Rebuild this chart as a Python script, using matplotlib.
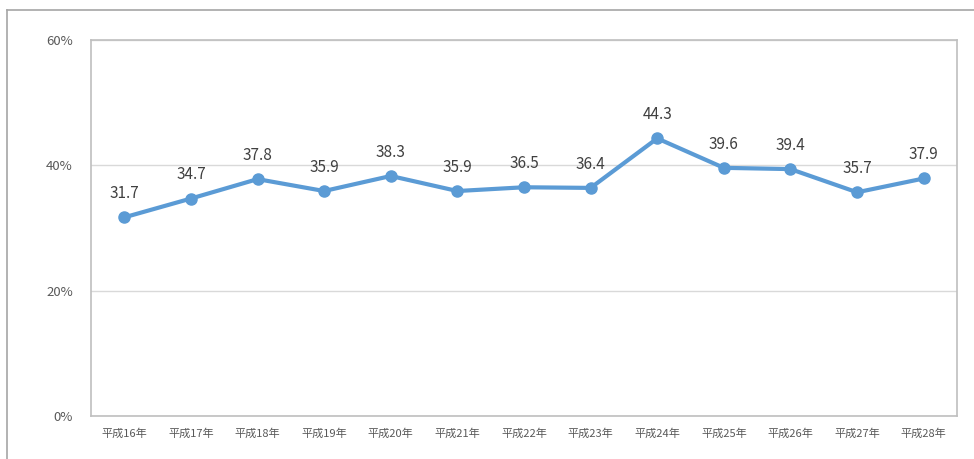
import matplotlib.pyplot as plt
from matplotlib.lines import Line2D

plt.rcParams['font.family'] = ['Noto Sans CJK JP', 'DejaVu Sans']

# Data
years = ['平成16年', '平成17年', '平成18年', '平成19年', '平成20年', '平成21年', '平成22年',
         '平成23年', '平成24年', '平成25年', '平成26年', '平成27年', '平成28年']
rates = [31.7, 34.7, 37.8, 35.9, 38.3, 35.9, 36.5, 36.4, 44.3, 39.6, 39.4, 35.7, 37.9]
y_ticks = [0, 20, 40, 60]

line_color = '#5B9BD5'
text_color = '#404040'
tick_color = '#595959'

fig = plt.figure(figsize=(9.74, 4.59), dpi=100)
ax = fig.add_axes([91 / 974, 43 / 459, 866 / 974, 376 / 459])

# outer chart border (only left and top visible)
fig.add_artist(Line2D([7 / 974, 7 / 974], [0, 1 - 10 / 459], transform=fig.transFigure,
                      color='#A6A6A6', lw=1.2))
fig.add_artist(Line2D([7 / 974, 1], [1 - 10 / 459, 1 - 10 / 459], transform=fig.transFigure,
                      color='#A6A6A6', lw=1.2))

x = list(range(len(years)))
ax.plot(x, rates, color=line_color, lw=3, marker='o', markersize=8, zorder=3)

for xi, v in zip(x, rates):
    ax.annotate('{:.1f}'.format(v), (xi, v), xytext=(0, 11), textcoords='offset points',
                ha='center', va='bottom', fontsize=11, color=text_color)

ax.set_xlim(-0.5, len(years) - 0.5)
ax.set_ylim(0, 60)
ax.set_yticks(y_ticks)
ax.set_yticklabels(['{}%'.format(t) for t in y_ticks])
ax.set_xticks(x)
ax.set_xticklabels(years)
ax.yaxis.grid(True, color='#D9D9D9', lw=1)
ax.set_axisbelow(True)

for s in ax.spines.values():
    s.set_color('#BFBFBF')
    s.set_linewidth(1.2)

ax.tick_params(axis='y', length=0, pad=13, labelsize=9.5, labelcolor=tick_color)
ax.tick_params(axis='x', length=0, pad=9, labelsize=8, labelcolor=tick_color)

fig.savefig('out.png', dpi=100)
